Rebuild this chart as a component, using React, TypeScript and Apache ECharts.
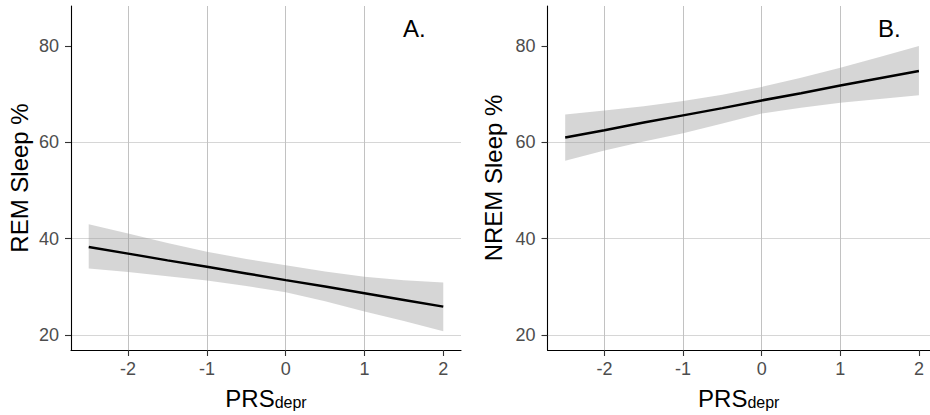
import React, { useEffect, useRef } from "react";
import * as echarts from "echarts";

// PRS values at which the fitted line and its confidence band were read
const xs = [-2.5, -2, -1.5, -1, -0.5, 0, 0.5, 1, 1.5, 2];

// Panel A: REM sleep %
const remFit = [38.3, 36.9, 35.5, 34.2, 32.8, 31.4, 30.1, 28.7, 27.3, 25.9];
const remUpper = [43.0, 41.1, 39.1, 37.3, 35.8, 34.5, 33.2, 32.1, 31.4, 30.9];
const remLower = [33.8, 33.1, 32.2, 31.3, 30.2, 28.9, 27.0, 24.9, 22.9, 20.8];

// Panel B: NREM sleep %
const nremFit = [61.0, 62.5, 64.1, 65.6, 67.1, 68.7, 70.2, 71.8, 73.3, 74.8];
const nremUpper = [65.8, 66.6, 67.5, 68.6, 69.9, 71.5, 73.4, 75.5, 77.7, 80.0];
const nremLower = [56.2, 58.3, 60.2, 61.9, 63.9, 66.0, 67.2, 68.2, 69.0, 69.8];

const xTicks = [-2, -1, 0, 1, 2];
const yTicks = [20, 40, 60, 80];

const panelLabels = ["A.", "B."];
const yTitles = ["REM Sleep %", "NREM Sleep %"];

const FONT = '"Liberation Sans", Arial, sans-serif';

export default function App() {
  const ref = useRef<HTMLDivElement>(null);

  useEffect(() => {
    document.body.style.margin = "0";
    if (!ref.current) return;
    const chart = echarts.init(ref.current, null, { renderer: "svg" });

    const panels = [
      { fit: remFit, upper: remUpper, lower: remLower, xmax: 2.225, nameGap: 40 },
      { fit: nremFit, upper: nremUpper, lower: nremLower, xmax: 2.141, nameGap: 42 },
    ];

    const xAxis = panels.map((p, i) => ({
      type: "value",
      gridIndex: i,
      min: -2.725,
      max: p.xmax,
      minInterval: 1,
      maxInterval: 1,
      axisLine: { show: true, onZero: false, lineStyle: { color: "#000", width: 1.1 } },
      axisTick: { show: true, length: 6, customValues: xTicks, lineStyle: { color: "#333", width: 1.1 } },
      axisLabel: {
        customValues: xTicks,
        formatter: (v: number) => (xTicks.includes(v) ? String(v) : ""),
        color: "#4d4d4d",
        fontSize: 18,
        fontFamily: FONT,
        margin: 10,
      },
      splitLine: {
        show: true,
        showMinLine: true,
        showMaxLine: false,
        lineStyle: { color: "#c2c2c2", width: 1 },
      },
      name: "{a|PRS}{b|depr}",
      nameLocation: "middle",
      nameGap: 30,
      nameTextStyle: {
        rich: {
          a: { fontSize: 24, fontFamily: FONT, color: "#000", lineHeight: 30, verticalAlign: "bottom" },
          b: { fontSize: 16, fontFamily: FONT, color: "#000", lineHeight: 10, verticalAlign: "bottom" },
        },
      },
    }));

    const yAxis = panels.map((p, i) => ({
      type: "value",
      gridIndex: i,
      min: 16.9,
      max: 88.3,
      minInterval: 20,
      maxInterval: 20,
      axisLine: { show: true, onZero: false, lineStyle: { color: "#000", width: 1.1 } },
      axisTick: { show: true, length: 6, customValues: yTicks, lineStyle: { color: "#333", width: 1.1 } },
      axisLabel: {
        customValues: yTicks,
        formatter: (v: number) => (yTicks.includes(v) ? String(v) : ""),
        color: "#4d4d4d",
        fontSize: 18,
        fontFamily: FONT,
        margin: 12,
      },
      splitLine: {
        show: true,
        showMinLine: true,
        showMaxLine: false,
        lineStyle: { color: "#d6d6d6", width: 1 },
      },
      name: yTitles[i],
      nameLocation: "middle",
      nameRotate: 90,
      nameGap: p.nameGap,
      nameTextStyle: { fontSize: 24, fontFamily: FONT, color: "#000", lineHeight: 24 },
    }));

    const series: any[] = [];
    panels.forEach((p, i) => {
      series.push({
        type: "custom",
        xAxisIndex: i,
        yAxisIndex: i,
        silent: true,
        data: [[xs[0], p.fit[0]]],
        renderItem: (_params: any, api: any) => {
          const up = xs.map((x, k) => api.coord([x, p.upper[k]]));
          const lo = xs.map((x, k) => api.coord([x, p.lower[k]])).reverse();
          return {
            type: "polygon",
            shape: { points: up.concat(lo) },
            style: { fill: "rgba(153,153,153,0.4)" },
          };
        },
      });
      series.push({
        type: "line",
        xAxisIndex: i,
        yAxisIndex: i,
        silent: true,
        symbol: "none",
        showSymbol: false,
        data: xs.map((x, k) => [x, p.fit[k]]),
        lineStyle: { color: "#000", width: 2.5 },
      });
    });

    chart.setOption({
      animation: false,
      grid: [
        { left: 71, top: 6, width: 390, height: 344, containLabel: false },
        { left: 547.5, top: 6, width: 382.5, height: 344, containLabel: false },
      ],
      xAxis,
      yAxis,
      series,
      graphic: [
        {
          type: "text",
          x: 403,
          y: 28.5,
          style: { text: panelLabels[0], fontSize: 24, fontFamily: FONT, fill: "#000", verticalAlign: "middle" },
        },
        {
          type: "text",
          x: 878,
          y: 28.5,
          style: { text: panelLabels[1], fontSize: 24, fontFamily: FONT, fill: "#000", verticalAlign: "middle" },
        },
      ],
    });

    return () => chart.dispose();
  }, []);

  return <div ref={ref} style={{ width: 930, height: 415 }} />;
}
